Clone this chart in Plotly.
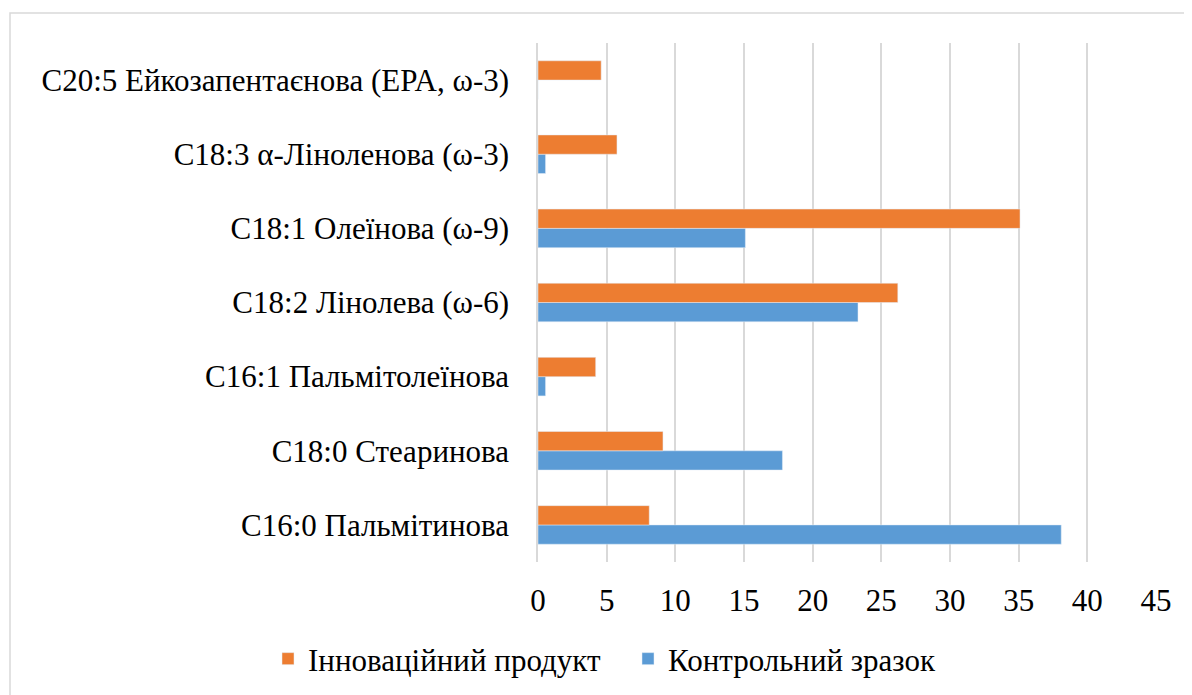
import plotly.graph_objects as go

categories = [
    "C16:0 Пальмітинова",
    "C18:0 Стеаринова",
    "C16:1 Пальмітолеїнова",
    "C18:2 Лінолева (ω-6)",
    "C18:1 Олеїнова (ω-9)",
    "C18:3 α-Ліноленова (ω-3)",
    "C20:5 Ейкозапентаєнова (EPA, ω-3)",
]
innovative = [8.1, 9.1, 4.2, 26.2, 35.1, 5.75, 4.6]
control = [38.1, 17.8, 0.55, 23.3, 15.1, 0.55, 0]
x_ticks = [0, 5, 10, 15, 20, 25, 30, 35, 40, 45]

FONT = "Liberation Serif, Times New Roman, serif"
FS = 31

W, H = 1184, 687
L, R, T, B = 530, 36, 35, 133
PW, PH = W - L - R, H - T - B

fig = go.Figure()
fig.add_trace(go.Bar(
    y=categories, x=control, orientation="h", name="Контрольний зразок",
    marker=dict(color="#5B9BD5"),
))
fig.add_trace(go.Bar(
    y=categories, x=innovative, orientation="h", name="Інноваційний продукт",
    marker=dict(color="#ED7D31"),
))

fig.update_layout(
    width=W, height=H,
    margin=dict(l=L, r=R, t=T, b=B, pad=0, autoexpand=False),
    paper_bgcolor="white", plot_bgcolor="white",
    barmode="group", bargap=0.48, bargroupgap=0,
    font=dict(family=FONT, size=FS, color="#000000"),
    showlegend=True,
    legend=dict(
        orientation="h", traceorder="reversed",
        xref="paper", yref="paper",
        x=(260 - L) / PW, y=-(651 - (H - B)) / PH,
        xanchor="left", yanchor="middle",
        font=dict(family=FONT, size=FS, color="#000000"),
        itemwidth=30, entrywidth=315, entrywidthmode="pixels",
        bgcolor="rgba(0,0,0,0)",
    ),
    xaxis=dict(
        range=[0, 45], tickvals=x_ticks, ticktext=[str(v) for v in x_ticks],
        showgrid=True, gridcolor="#d9d9d9", gridwidth=1.5,
        zeroline=False, showline=False, ticks="",
        ticklabelstandoff=17,
        tickfont=dict(family=FONT, size=FS, color="#000000"),
        fixedrange=True,
    ),
    yaxis=dict(
        showgrid=False, zeroline=False,
        showline=True, linecolor="#d9d9d9", linewidth=1.5,
        ticks="", ticklabelstandoff=21,
        tickfont=dict(family=FONT, size=FS, color="#000000"),
        fixedrange=True,
    ),
    shapes=[dict(
        type="rect", xref="paper", yref="paper",
        x0=(2 - L) / PW, x1=(1200 - L) / PW,
        y0=-(710 - (H - B)) / PH, y1=1 + (T - 5) / PH,
        line=dict(color="#d9d9d9", width=1.5), fillcolor="rgba(0,0,0,0)",
        layer="below",
    )],
)

fig.write_html("out.html")
